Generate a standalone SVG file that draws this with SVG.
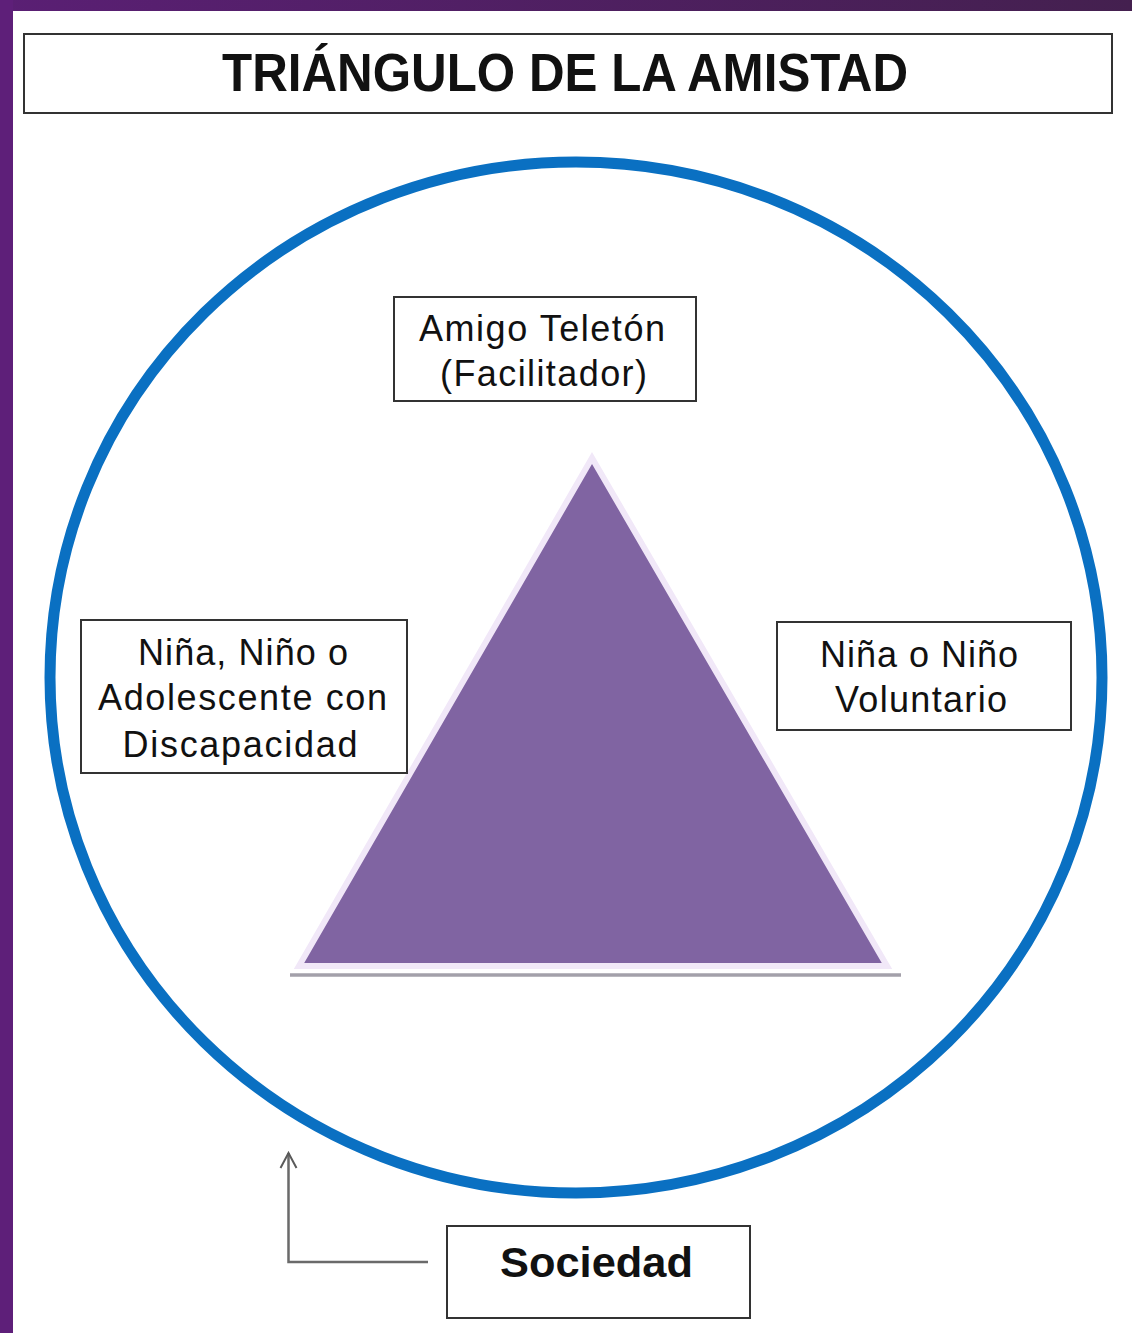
<svg xmlns="http://www.w3.org/2000/svg" width="1132" height="1333" viewBox="0 0 1132 1333">
  <defs>
    <linearGradient id="topband" x1="0" y1="0" x2="1" y2="0">
      <stop offset="0" stop-color="#5a1f74"/>
      <stop offset="1" stop-color="#44204f"/>
    </linearGradient>
    <marker id="openArrow" viewBox="0 0 20 20" refX="18" refY="10" markerWidth="20" markerHeight="20" markerUnits="userSpaceOnUse" orient="auto">
      <path d="M3 2 L18 10 L3 18" fill="none" stroke="#5a5a5a" stroke-width="2"/>
    </marker>
    <style>
      .box { fill: #ffffff; stroke: #333333; stroke-width: 2; }
      .lbl { font-family: "Liberation Sans", Arial, sans-serif; font-size: 36px; fill: #111111; text-anchor: middle; }
      .bold { font-family: "Liberation Sans", Arial, sans-serif; font-weight: bold; fill: #111111; text-anchor: middle; }
      .conn { fill: none; stroke: #6a6a6a; stroke-width: 2.5; }
    </style>
  </defs>

  <rect x="0" y="0" width="1132" height="1333" fill="#ffffff"/>
  <rect x="0" y="0" width="1132" height="11" fill="url(#topband)"/>
  <rect x="0" y="0" width="13" height="1333" fill="#5e1f79"/>

  <g id="title">
    <rect class="box" x="24" y="34" width="1088" height="79" stroke-width="2.5"/>
    <text class="bold" x="565" y="91" font-size="54" textLength="686" lengthAdjust="spacingAndGlyphs">TRIÁNGULO DE LA AMISTAD</text>
  </g>

  <g id="society-circle">
    <ellipse cx="576" cy="677.5" rx="526" ry="515.5" fill="none" stroke="#0a70c2" stroke-width="11"/>
  </g>

  <g id="triangle">
    <line x1="290" y1="975" x2="901" y2="975" stroke="#a3a0aa" stroke-width="3.5"/>
    <polygon points="592,458 299,966 887,966" fill="#8064a2" stroke="#f1e8f8" stroke-width="6" stroke-linejoin="miter"/>
  </g>

  <g id="amigo-teleton">
    <rect class="box" x="394" y="297" width="302" height="104"/>
    <text class="lbl" x="542" y="341" textLength="246" lengthAdjust="spacing">Amigo Teletón</text>
    <text class="lbl" x="543.5" y="386" textLength="207" lengthAdjust="spacing">(Facilitador)</text>
  </g>

  <g id="nino-discapacidad">
    <rect class="box" x="81" y="620" width="326" height="153"/>
    <text class="lbl" x="243" y="665" textLength="210" lengthAdjust="spacing">Niña, Niño o</text>
    <text class="lbl" x="242.5" y="710" textLength="289" lengthAdjust="spacing">Adolescente con</text>
    <text class="lbl" x="240" y="757" textLength="235" lengthAdjust="spacing">Discapacidad</text>
  </g>

  <g id="nino-voluntario">
    <rect class="box" x="777" y="622" width="294" height="108"/>
    <text class="lbl" x="919" y="667" textLength="198" lengthAdjust="spacing">Niña o Niño</text>
    <text class="lbl" x="921" y="712" textLength="172" lengthAdjust="spacing">Voluntario</text>
  </g>

  <g id="sociedad">
    <rect class="box" x="447" y="1226" width="303" height="92"/>
    <text class="bold" x="596.5" y="1277" font-size="42" textLength="193" lengthAdjust="spacingAndGlyphs">Sociedad</text>
  </g>

  <g id="connectors">
    <path class="conn" d="M428 1262 H288.5 V1153" marker-end="url(#openArrow)"/>
  </g>
</svg>
